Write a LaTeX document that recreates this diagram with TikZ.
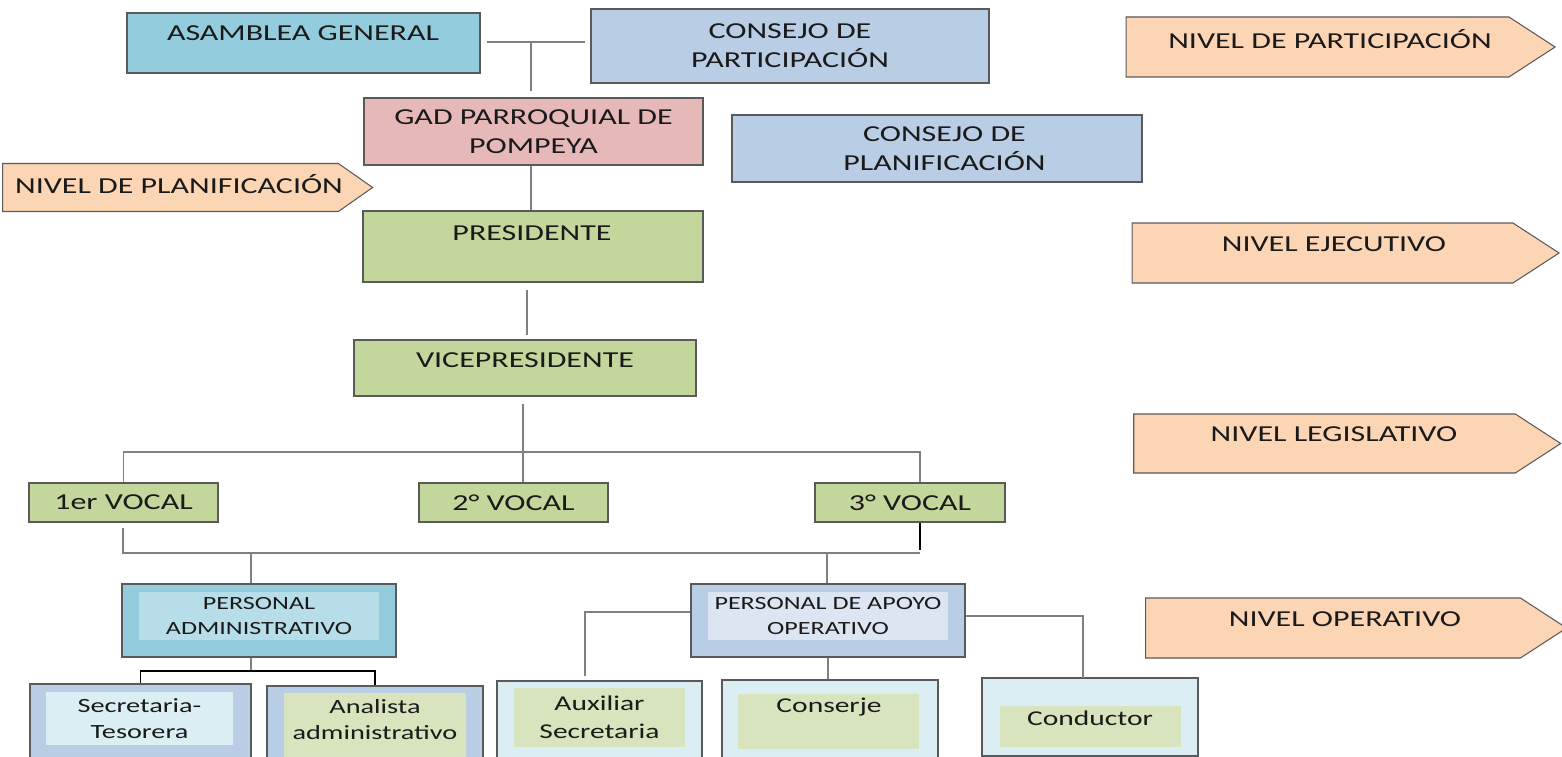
\documentclass[tikz,border=0pt]{standalone}
\usepackage{fontspec}
\setmainfont{Carlito}[FakeStretch=1.4]
\usetikzlibrary{shapes.symbols}

\definecolor{asamb}{HTML}{93CDDD}
\definecolor{consejo}{HTML}{B9CDE5}
\definecolor{gadpink}{HTML}{E6B9B8}
\definecolor{ejec}{HTML}{C3D69B}
\definecolor{nivel}{HTML}{FCD5B5}
\definecolor{celeste}{HTML}{DBEEF4}
\definecolor{cyanin}{HTML}{B7DEE8}
\definecolor{bluein}{HTML}{DCE6F2}
\definecolor{greenin}{HTML}{D7E4BD}
\definecolor{borde}{HTML}{5A5A5A}
\definecolor{linea}{HTML}{808080}
\definecolor{tinta}{HTML}{1A1A1A}

\newcommand\fbig{\fontsize{13}{16.5}\selectfont}
\newcommand\fper{\fontsize{10.6}{14.2}\selectfont}
\newcommand\fsec{\fontsize{11.5}{15}\selectfont}
\newcommand\fbot{\fontsize{12}{16}\selectfont}

\tikzset{
  wh/.style 2 args={minimum width=#1*0.02cm, minimum height=#2*0.02cm},
  box/.style={draw=borde, line width=0.6pt, inner sep=0pt, align=center, text=tinta, font=\fbig},
  inbox/.style={inner sep=0pt, align=center, text=tinta},
  txt/.style={inner sep=0pt, align=center, text=tinta, font=\fbig},
  lvl/.style={signal, signal to=east, draw=borde, line width=0.6pt, fill=nivel, inner sep=0pt},
  link/.style={draw=linea, line width=0.8pt},
  blink/.style={draw=black, line width=1.1pt}
}

\begin{document}
\begin{tikzpicture}[x=0.02cm, y=-0.02cm]
  \clip (0,0) rectangle (1562,757);

  % participacion
  \node[box, fill=asamb, wh={353}{60}] (asamblea) at (303.5,43) {};
  \node[txt] (asambleaT) at (303,33) {ASAMBLEA GENERAL};
  \node[box, fill=consejo, wh={398}{74}] (consPart) at (790,46) {CONSEJO DE\\PARTICIPACIÓN};
  \coordinate (jA) at (531,42);
  \draw[link, shorten <=0.12cm, shorten >=0.1cm] (asamblea.east |- jA) -- (consPart.west |- jA);
  \node[box, fill=gadpink, wh={339}{67}] (gad) at (533.5,131.5) {GAD PARROQUIAL DE\\POMPEYA};
  \draw[link, shorten >=0.12cm] (jA) -- (jA |- gad.north);
  \node[box, fill=consejo, wh={410}{67}] (consPlan) at (937,148.5) {\hspace{0.3cm}CONSEJO DE\\\hspace{0.3cm}PLANIFICACIÓN};

  % ejecutivo
  \node[box, fill=ejec, wh={340}{71}] (presidente) at (533,246.5) {};
  \node[txt] (presidenteT) at (532,233) {PRESIDENTE};
  \draw[link] (jA |- gad.south) -- (jA |- presidente.north);
  \node[box, fill=ejec, wh={342}{56}] (vice) at (525,368) {};
  \node[txt] (viceT) at (525,360.5) {VICEPRESIDENTE};
  \draw[link, shorten <=0.14cm, shorten >=0.08cm] (527,0 |- presidente.south) -- (527,0 |- vice.north);

  % legislativo
  \node[box, fill=ejec, wh={189}{39}] (v1) at (123.5,502.5) {1er VOCAL};
  \node[box, fill=ejec, wh={189}{39}] (v2) at (513.5,502.5) {2° VOCAL};
  \node[box, fill=ejec, wh={190}{39}] (v3) at (910,502.5) {3° VOCAL};
  \coordinate (busA) at (523,452);
  \coordinate (busR) at (920,452);
  \draw[link, shorten <=0.14cm] (busA |- vice.south) -- (busA |- v2.north);
  \draw[link] (v1.north) |- (busR) -- (busR |- v3.north);
  \coordinate (busL) at (123,553);
  \coordinate (busLR) at (920,553);
  \draw[link, shorten <=0.1cm] (busL |- v1.south) -- (busL) -- (busLR);
  \draw[blink] (busLR |- v3.south) -- (920,550);

  % operativo
  \coordinate (dropA) at (251,553);
  \coordinate (dropB) at (827,553);
  \node[box, fill=asamb, wh={274}{73}] (padm) at (259,620.5) {};
  \node[inbox, fill=cyanin, wh={240}{48}, font=\fper] (padmIn) at (259,616) {PERSONAL\\ADMINISTRATIVO};
  \node[box, fill=consejo, wh={274}{73}] (papo) at (828,620.5) {};
  \node[inbox, fill=bluein, wh={240}{48}, font=\fper] (papoIn) at (828,616) {PERSONAL DE APOYO\\OPERATIVO};
  \draw[link] (dropA) -- (dropA |- padm.north);
  \draw[link] (dropB) -- (dropB |- papo.north);

  \node[box, fill=consejo, wh={221}{90}] (sec) at (140.5,729) {};
  \node[inbox, fill=celeste, wh={187}{53}, font=\fsec] (secIn) at (139.5,718.5) {Secretaria-\\Tesorera};
  \node[box, fill=consejo, wh={216}{88}] (ana) at (375,730) {};
  \node[inbox, fill=greenin, wh={182}{70}, font=\fsec] (anaIn) at (375,728) {};
  \node[txt, font=\fsec] (anaT) at (375,719.5) {Analista\\administrativo};
  \coordinate (barA) at (251,671);
  \draw[link] (dropA |- padm.south) -- (barA);
  \draw[blink] (sec.north) |- (barA) -| (ana.north);

  \node[box, fill=celeste, wh={205}{90}] (aux) at (599.5,726) {};
  \node[inbox, fill=greenin, wh={171}{59}, font=\fbot] (auxIn) at (599.5,717.5) {Auxiliar\\Secretaria};
  \node[box, fill=celeste, wh={216}{90}] (cons) at (830,725) {};
  \node[inbox, fill=greenin, wh={181}{55}] (consIn) at (828.5,721.5) {};
  \node[txt, font=\fbot] (consT) at (829,707) {Conserje};
  \node[box, fill=celeste, wh={216}{78}] (cond) at (1090,717) {};
  \node[inbox, fill=greenin, wh={181}{41}] (condIn) at (1090.5,726.5) {};
  \node[txt, font=\fbot] (condT) at (1090,718) {Conductor};
  \coordinate (auxTop) at (585,676);
  \coordinate (condTop) at (1083,678);
  \draw[link] ([yshift=0.17cm]papo.west) -| (auxTop);
  \draw[link] (papo.south) -- (papo.south |- cons.north);
  \draw[link] ([yshift=0.09cm]papo.east) -| (condTop);

  % niveles
  \node[lvl, signal pointer angle=70, wh={370}{48}] (nPlan) at (170.5,187.5) {};
  \node[txt] (nPlanT) at (179,184) {NIVEL DE PLANIFICACIÓN};
  \node[lvl, signal pointer angle=66, wh={429}{60}] (nPart) at (1317.5,47) {};
  \node[txt] (nPartT) at (1330,39) {NIVEL DE PARTICIPACIÓN};
  \node[lvl, signal pointer angle=66, wh={427}{60}] (nEjec) at (1322.5,253) {};
  \node[txt] (nEjecT) at (1334,244) {NIVEL EJECUTIVO};
  \node[lvl, signal pointer angle=66, wh={427}{59}] (nLeg) at (1324.5,443.5) {};
  \node[txt] (nLegT) at (1334,434) {NIVEL LEGISLATIVO};
  \node[lvl, signal pointer angle=66, wh={421}{60}] (nOper) at (1333,628) {};
  \node[txt] (nOperT) at (1345,619) {NIVEL OPERATIVO};
\end{tikzpicture}
\end{document}
